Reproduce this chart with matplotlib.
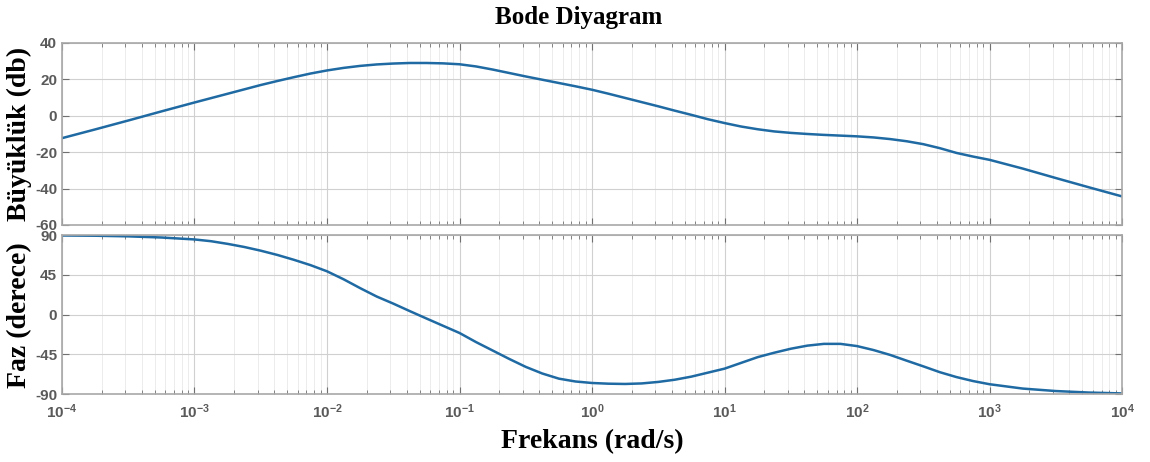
import numpy as np
import matplotlib
matplotlib.use("Agg")
import matplotlib.pyplot as plt
from matplotlib.ticker import LogLocator, NullFormatter

plt.rcParams['axes.unicode_minus'] = False

# log10 of frequency (rad/s) where the curves were read
log_w = [-4.0, -3.75, -3.5, -3.25,
         -3.0, -2.875, -2.75, -2.625, -2.5, -2.375, -2.25, -2.125,
         -2.0, -1.875, -1.75, -1.625, -1.5, -1.375, -1.25, -1.125,
         -1.0, -0.875, -0.75, -0.625, -0.5, -0.375, -0.25, -0.125,
         0.0, 0.125, 0.25, 0.375, 0.5, 0.625, 0.75, 0.875,
         1.0, 1.125, 1.25, 1.375, 1.5, 1.625, 1.75, 1.875,
         2.0, 2.125, 2.25, 2.375, 2.5, 2.625, 2.75, 2.875,
         3.0, 3.25, 3.5, 3.75, 4.0]

# magnitude (dB)
buyukluk = [-12.3, -7.5, -2.6, 2.4,
            7.3, 9.7, 12.1, 14.5, 16.9, 19.1, 21.2, 23.2,
            24.9, 26.3, 27.4, 28.2, 28.7, 29.0, 29.0, 28.8,
            28.3, 27.1, 25.4, 23.5, 21.6, 19.8, 18.0, 16.2,
            14.3, 12.1, 9.8, 7.5, 5.2, 2.8, 0.5, -1.9,
            -4.0, -5.9, -7.4, -8.6, -9.4, -10.0, -10.5, -10.9,
            -11.3, -11.9, -12.8, -14.0, -15.6, -17.8, -20.4, -22.4,
            -24.2, -29.0, -34.2, -39.3, -44.3]

# phase (degrees)
faz = [89.5, 89.2, 88.5, 87.2,
       85.0, 83.0, 80.0, 76.5, 72.3, 67.5, 62.0, 56.0,
       49.0, 40.0, 30.0, 20.5, 12.5, 4.0, -4.3, -12.5,
       -20.7, -31.0, -40.5, -50.0, -59.0, -66.5, -72.3, -75.5,
       -77.2, -78.0, -78.3, -77.7, -76.0, -73.5, -70.0, -65.5,
       -61.0, -54.5, -48.0, -43.0, -38.5, -35.0, -33.0, -33.0,
       -35.5, -40.0, -45.5, -52.0, -58.4, -65.0, -70.5, -75.0,
       -78.6, -83.5, -86.3, -88.0, -89.0]

mag_ticks = [-60, -40, -20, 0, 20, 40]
faz_ticks = [-90, -45, 0, 45, 90]

w = 10.0 ** np.array(log_w)
renk = '#1f6aa3'
gri = '#5a5a5a'

fig = plt.figure(figsize=(11.5, 4.62), dpi=100)
ax1 = fig.add_axes([0.0539, 0.513, 0.9218, 0.394])
ax2 = fig.add_axes([0.0539, 0.1465, 0.9218, 0.3448])

for ax in (ax1, ax2):
    ax.set_xscale('log')
    ax.set_xlim(1e-4, 1e4)
    ax.xaxis.set_major_locator(LogLocator(base=10, numticks=20))
    ax.xaxis.set_minor_locator(LogLocator(base=10, subs=np.arange(2, 10), numticks=100))
    ax.xaxis.set_minor_formatter(NullFormatter())
    ax.grid(True, which='major', color='#d0d0d0', linewidth=0.8)
    ax.grid(True, which='minor', axis='x', color='#ececec', linewidth=0.7)
    ax.tick_params(which='both', direction='in', top=True, right=True,
                   colors='#707070', labelcolor=gri)
    ax.tick_params(which='major', length=5)
    ax.tick_params(which='minor', length=3)
    for s in ax.spines.values():
        s.set_color('#a8a8a8')
        s.set_linewidth(1.2)
    ax.set_axisbelow(True)

ax1.plot(w, buyukluk, color=renk, linewidth=1.8)
ax1.set_ylim(-60, 40)
ax1.set_yticks(mag_ticks)
ax1.tick_params(axis='x', which='both', labelbottom=False)

ax2.plot(w, faz, color=renk, linewidth=1.8)
ax2.set_ylim(-90, 90)
ax2.set_yticks(faz_ticks)

for ax in (ax1, ax2):
    for lab in ax.get_yticklabels() + ax.get_xticklabels():
        lab.set_fontfamily('Liberation Sans')
        lab.set_fontweight('bold')
        lab.set_fontsize(11)
ax2.tick_params(axis='x', pad=6)

serif = {'family': 'Liberation Serif', 'weight': 'bold', 'size': 20}
ax1.set_ylabel('Büyüklük (db)', fontdict=serif)
ax2.set_ylabel('Faz (derece)', fontdict=serif)
ax1.yaxis.set_label_coords(-0.028, 0.5)
ax2.yaxis.set_label_coords(-0.028, 0.5)
ax2.set_xlabel('Frekans (rad/s)', fontdict=serif, labelpad=6)
fig.text(0.5035, 0.962, 'Bode Diyagram',
         ha='center', va='center', family='Liberation Serif', weight='bold', size=18)

fig.savefig('out.png', dpi=100)
